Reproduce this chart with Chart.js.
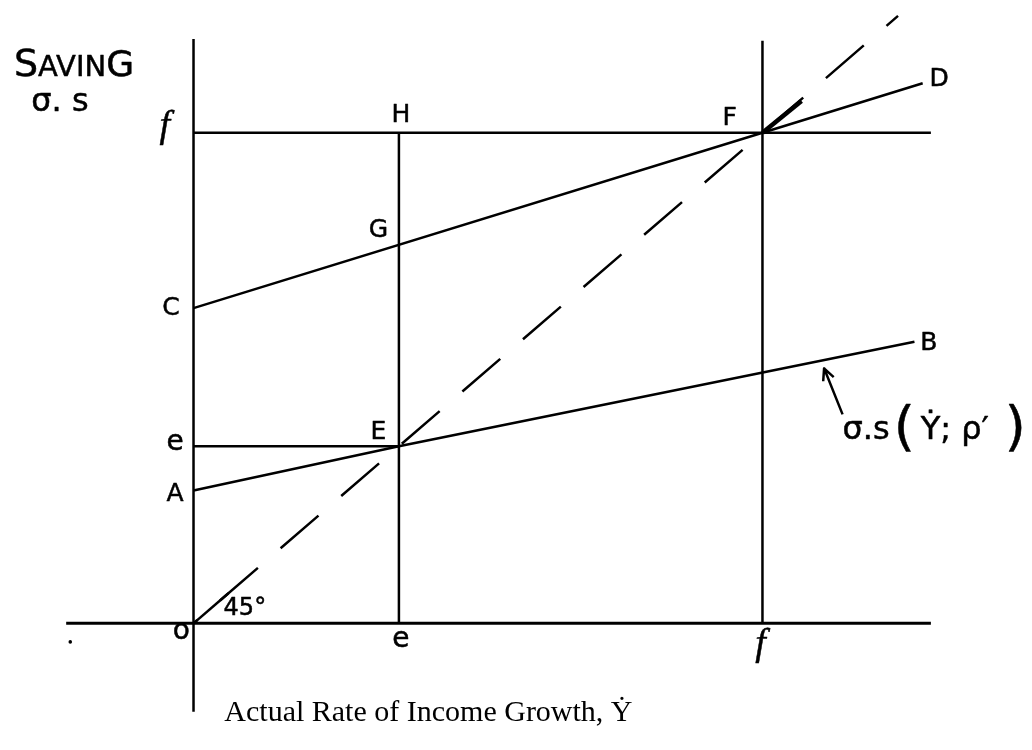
<!DOCTYPE html>
<html>
<head>
<meta charset="utf-8">
<title>Saving and income growth</title>
<script src="https://cdn.jsdelivr.net/npm/chart.js@4.4.1/dist/chart.umd.min.js"></script>
<style>
  html, body { margin: 0; padding: 0; background: #fff; }
  #wrap { width: 1032px; height: 750px; position: relative; }
</style>
</head>
<body>
<div id="wrap"><canvas id="myChart"></canvas></div>
<script>
// levels e and f, same value on both axes (45 degree line)
const eLevel = 1;
const fLevel = 2.77;

// saving schedules
const scheduleAB = [{x: 0, y: 0.75}, {x: eLevel, y: eLevel}, {x: 3.51, y: 1.59}];
const scheduleCD = [{x: 0, y: 1.78}, {x: fLevel, y: fLevel}, {x: 3.55, y: 3.05}];
const diagonal = [{x: 0, y: 0}, {x: 3.43, y: 3.43}];
const diagonalStartTick = [{x: 0, y: 0}, {x: 0.17, y: 0.17}];
const diagonalAtF = [{x: fLevel, y: fLevel}, {x: 2.96, y: 2.95}];

// axes and guide lines
const xAxisLine = [{x: -0.62, y: 0}, {x: 3.59, y: 0}];
const yAxisLine = [{x: 0, y: -0.5}, {x: 0, y: 3.3}];
const fRow = [{x: 0, y: fLevel}, {x: 3.59, y: fLevel}];
const eRow = [{x: 0, y: eLevel}, {x: eLevel, y: eLevel}];
const eCol = [{x: eLevel, y: 0}, {x: eLevel, y: fLevel}];
const fCol = [{x: fLevel, y: 0}, {x: fLevel, y: 3.29}];
const strayDot = [{x: -0.6, y: -0.105}];

// arrow pointing at AB: tail, head
const arrowAB = [{x: 3.16, y: 1.18}, {x: 3.07, y: 1.44}];

// point letters, centred
const letters = [
  {t: 'H', x: 1.01, y: 2.87},
  {t: 'F', x: 2.61, y: 2.85},
  {t: 'D', x: 3.63, y: 3.07},
  {t: 'G', x: 0.90, y: 2.22},
  {t: 'C', x: -0.11, y: 1.78},
  {t: 'E', x: 0.90, y: 1.08},
  {t: 'B', x: 3.58, y: 1.58},
  {t: 'A', x: -0.09, y: 0.73}
];
const lowerLetters = [
  {t: 'e', x: -0.09, y: 1.02},
  {t: 'o', x: -0.06, y: -0.05},
  {t: 'e', x: 1.01, y: -0.095}
];
const fMarks = [
  {x: -0.14, y: 2.80},
  {x: 2.76, y: -0.12}
];

function line(data, width, dash) {
  return {
    data: data,
    showLine: true,
    borderColor: '#000',
    borderWidth: width,
    borderDash: dash || [],
    borderDashOffset: dash ? 45 : 0,
    pointRadius: 0,
    tension: 0
  };
}

const hand = '"DejaVu Sans", sans-serif';

// text with a thin outline so strokes look pen-drawn
function inkText(ctx, t, x, y) {
  ctx.fillText(t, x, y);
  ctx.strokeText(t, x, y);
}

// draws text pieces of different sizes along one baseline
function drawParts(ctx, parts, x, y) {
  ctx.textAlign = 'left';
  ctx.textBaseline = 'alphabetic';
  parts.forEach(p => {
    ctx.font = (p.style || '') + ' ' + p.size + 'px ' + (p.family || hand);
    if (p.family) ctx.fillText(p.t, x, y + (p.dy || 0));
    else inkText(ctx, p.t, x, y + (p.dy || 0));
    x += ctx.measureText(p.t).width + (p.gap || 0);
  });
}

const labelPlugin = {
  id: 'labels',
  afterDatasetsDraw(chart) {
    const ctx = chart.ctx;
    const xs = chart.scales.x, ys = chart.scales.y;
    const px = v => xs.getPixelForValue(v);
    const py = v => ys.getPixelForValue(v);
    ctx.save();
    ctx.fillStyle = '#000';
    ctx.strokeStyle = '#000';
    ctx.lineWidth = 0.5;
    ctx.lineJoin = 'round';

    ctx.textAlign = 'center';
    ctx.textBaseline = 'middle';
    ctx.font = '25px ' + hand;
    letters.forEach(l => inkText(ctx, l.t, px(l.x), py(l.y)));
    ctx.font = '28px ' + hand;
    lowerLetters.forEach(l => inkText(ctx, l.t, px(l.x), py(l.y)));
    ctx.font = 'italic 38px "Liberation Serif", serif';
    fMarks.forEach(l => inkText(ctx, 'f', px(l.x), py(l.y)));

    // 45 degree mark
    ctx.font = '24px ' + hand;
    inkText(ctx, '45°', px(0.25), py(0.08));

    // vertical axis title
    drawParts(ctx, [
      {t: 'S', size: 38}, {t: 'AVIN', size: 29}, {t: 'G', size: 36}
    ], px(-0.874), py(3.093));
    drawParts(ctx, [{t: 'σ. s', size: 32}], px(-0.79), py(2.894));

    // schedule label
    drawParts(ctx, [
      {t: 'σ.s', size: 32, gap: 4},
      {t: '(', size: 54, dy: 6, gap: 6},
      {t: 'Ẏ; ρ′', size: 32, gap: 16},
      {t: ')', size: 54, dy: 6}
    ], px(3.16), py(1.04));

    // horizontal axis title
    drawParts(ctx, [
      {t: 'Actual Rate of Income Growth, Ẏ', size: 30, family: '"Liberation Serif", serif'}
    ], px(0.15), py(-0.553));

    // arrow
    const x0 = px(arrowAB[0].x), y0 = py(arrowAB[0].y);
    const x1 = px(arrowAB[1].x), y1 = py(arrowAB[1].y);
    ctx.lineWidth = 2.5;
    ctx.beginPath();
    ctx.moveTo(x0, y0);
    ctx.lineTo(x1, y1);
    const a = Math.atan2(y1 - y0, x1 - x0);
    ctx.moveTo(x1 - 13 * Math.cos(a - 0.45), y1 - 13 * Math.sin(a - 0.45));
    ctx.lineTo(x1, y1);
    ctx.lineTo(x1 - 13 * Math.cos(a + 0.45), y1 - 13 * Math.sin(a + 0.45));
    ctx.stroke();
    ctx.restore();
  }
};

const ctx = document.getElementById('myChart').getContext('2d');
const myChart = new Chart(ctx, {
  type: 'scatter',
  data: {
    datasets: [
      line(xAxisLine, 3),
      line(yAxisLine, 2.5),
      line(fRow, 2.5),
      line(eRow, 2.5),
      line(eCol, 2.5),
      line(fCol, 2.5),
      line(scheduleAB, 2.5),
      line(scheduleCD, 2.5),
      line(diagonal, 2.5, [50, 30]),
      line(diagonalStartTick, 2.5),
      line(diagonalAtF, 4.5),
      {data: strayDot, pointRadius: 1.8, pointBackgroundColor: '#000', pointBorderWidth: 0}
    ]
  },
  options: {
    responsive: true,
    maintainAspectRatio: false,
    animation: false,
    layout: {padding: 0},
    plugins: {legend: {display: false}, tooltip: {enabled: false}},
    scales: {
      x: {type: 'linear', display: false, min: -0.9227, max: 4.0628},
      y: {type: 'linear', display: false, min: -0.6927, max: 3.4972}
    }
  },
  plugins: [labelPlugin]
});
</script>
</body>
</html>
